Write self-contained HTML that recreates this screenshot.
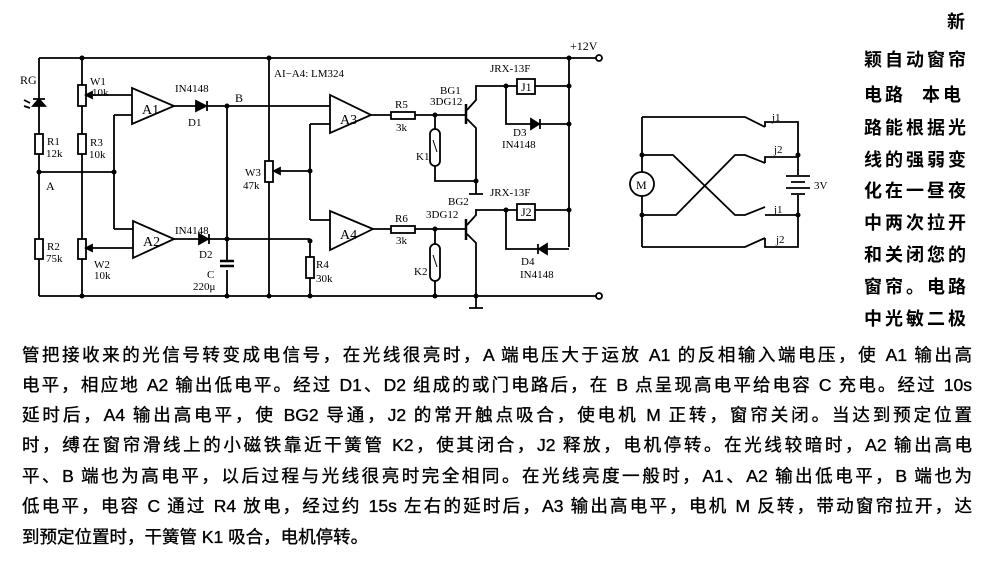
<!DOCTYPE html>
<html><head><meta charset="utf-8"><style>
html,body{margin:0;padding:0;background:#fff;}
#w{position:relative;width:994px;height:566px;overflow:hidden;background:#fff;}
svg{position:absolute;left:0;top:0;}
.t{font-family:"Liberation Serif","Noto Serif CJK SC",serif;fill:#000;}
.col{position:absolute;left:864px;width:110px;font-family:"Liberation Sans","Noto Sans CJK SC",sans-serif;font-size:18px;font-weight:bold;color:#000;letter-spacing:3px;white-space:nowrap;line-height:20px;}
.ln{position:absolute;left:22px;width:950px;font-family:"Liberation Sans","Noto Sans CJK SC",sans-serif;font-size:17.5px;color:#000;white-space:nowrap;text-align:justify;text-align-last:justify;line-height:22px;-webkit-text-stroke:0.35px #000;}
</style></head><body><div id="w">
<svg width="994" height="566" viewBox="0 0 994 566" stroke="#000" stroke-width="1.8" fill="none">
<path d="M39 58H598 M39 296H598"/>
<circle cx="599" cy="58" r="3" fill="#fff"/><circle cx="599" cy="296" r="3" fill="#fff"/>
<path d="M39 58V296 M82 58V296 M39 172H114 M114 115V229"/>
<rect x="35" y="134" width="8" height="20" fill="#fff"/>
<rect x="35" y="239" width="8" height="20" fill="#fff"/>
<rect x="78" y="134" width="8" height="20" fill="#fff"/>
<rect x="78" y="85" width="8" height="21" fill="#fff"/>
<rect x="78" y="239" width="8" height="20" fill="#fff"/>
<polygon points="33,106 45,106 39,99" fill="#000"/><path d="M33 99H45 M24 100l6 3 M24 106l6 2"/>
<polygon points="132,88 132,124 174,106" fill="#fff"/>
<polygon points="133,221 133,258 174,239" fill="#fff"/>
<path d="M86 95H132 M114 115H132 M114 229H133 M86 248H133"/>
<polygon points="86,95 92,92 92,98" fill="#000"/><polygon points="86,248 92,245 92,251" fill="#000"/>
<path d="M174 106H227 M174 239H310"/>
<polygon points="196,101 196,111 206,106" fill="#000"/><path d="M207 101V111"/>
<polygon points="199,234 199,244 208,239" fill="#000"/><path d="M209 234V244"/>
<path d="M227 106H332 M227 106V261 M227 270V296"/>
<path d="M220 261H234 M220 266H234" stroke-width="2.5"/>
<path d="M269 58V296"/><rect x="265" y="161" width="8" height="21" fill="#fff"/>
<path d="M274 171H310 M310 124V220" /><polygon points="274,171 280,168 280,174" fill="#000"/>
<path d="M310 124H332 M310 220H330 M310 241V296"/>
<rect x="306" y="257" width="8" height="21" fill="#fff"/>
<polygon points="330,95 330,133 371,115" fill="#fff"/>
<polygon points="330,211 330,250 373,229" fill="#fff"/>
<path d="M371 115H466 M373 229H466"/>
<rect x="391" y="112" width="24" height="7" fill="#fff"/>
<rect x="391" y="226" width="24" height="7" fill="#fff"/>
<path d="M435 115V129 M435 166V181H476 M435 229V244 M435 281V296"/>
<rect x="430" y="129" width="10" height="37" rx="5" fill="#fff"/>
<rect x="430" y="244" width="10" height="37" rx="5" fill="#fff"/>
<path d="M433 140l4 12 M433 255l4 12" stroke-width="1"/>
<path d="M466 104V124 M466 219V240" stroke-width="2.5"/>
<path d="M467 110L476 100V86H506 M467 119L476 128V181 M476 181V194 M469 194H483"/>
<path d="M467 225L476 215V210H506 M467 234L476 243V308 M469 308H483"/>
<path d="M506 86H569 M506 86V124H569 M569 58V247 M506 210H569 M506 210V249H569"/>
<rect x="517" y="79" width="18" height="15" fill="#fff"/>
<rect x="517" y="204" width="18" height="16" fill="#fff"/>
<polygon points="531,119 531,129 539,124" fill="#000"/><path d="M540 119V129"/>
<polygon points="547,244 547,254 539,249" fill="#000"/><path d="M538 244V254"/>
<g fill="#000" stroke="none">
<circle cx="82" cy="58" r="2.5"/><circle cx="269" cy="58" r="2.5"/><circle cx="569" cy="58" r="2.5"/>
<circle cx="39" cy="172" r="2.5"/><circle cx="114" cy="172" r="2.5"/><circle cx="227" cy="106" r="2.5"/>
<circle cx="227" cy="239" r="2.5"/><circle cx="310" cy="171" r="2.5"/><circle cx="310" cy="241" r="2.5"/>
<circle cx="435" cy="115" r="2.5"/><circle cx="435" cy="229" r="2.5"/><circle cx="476" cy="181" r="2.5"/>
<circle cx="506" cy="86" r="2.5"/><circle cx="569" cy="86" r="2.5"/><circle cx="569" cy="124" r="2.5"/>
<circle cx="506" cy="210" r="2.5"/><circle cx="569" cy="210" r="2.5"/>
<circle cx="82" cy="296" r="2.5"/><circle cx="227" cy="296" r="2.5"/><circle cx="269" cy="296" r="2.5"/>
<circle cx="310" cy="296" r="2.5"/><circle cx="435" cy="296" r="2.5"/><circle cx="476" cy="296" r="2.5"/>
</g>
<g class="t" stroke="none" font-size="11">
<text x="570" y="50" font-size="12">+12V</text>
<text x="20" y="84" font-size="12">RG</text>
<text x="90" y="85">W1</text><text x="92" y="96">10k</text>
<text x="47" y="145">R1</text><text x="46" y="157">12k</text>
<text x="90" y="146">R3</text><text x="89" y="158">10k</text>
<text x="46" y="190" font-size="12">A</text>
<text x="47" y="250">R2</text><text x="46" y="262">75k</text>
<text x="94" y="268">W2</text><text x="94" y="279">10k</text>
<text x="142" y="114" font-size="14">A1</text><text x="143" y="246" font-size="14">A2</text>
<text x="175" y="92">IN4148</text><text x="188" y="126">D1</text>
<text x="235" y="102" font-size="12">B</text>
<text x="175" y="234">IN4148</text><text x="199" y="258">D2</text>
<text x="207" y="278">C</text><text x="193" y="290">220μ</text>
<text x="274" y="77">AI−A4: LM324</text>
<text x="245" y="176">W3</text><text x="243" y="189">47k</text>
<text x="340" y="124" font-size="14">A3</text><text x="340" y="239" font-size="14">A4</text>
<text x="316" y="268">R4</text><text x="316" y="282">30k</text>
<text x="395" y="108">R5</text><text x="396" y="131">3k</text>
<text x="395" y="222">R6</text><text x="396" y="244">3k</text>
<text x="416" y="160">K1</text><text x="414" y="275">K2</text>
<text x="440" y="94">BG1</text><text x="430" y="105">3DG12</text>
<text x="448" y="205">BG2</text><text x="426" y="218">3DG12</text>
<text x="490" y="72">JRX-13F</text><text x="490" y="196">JRX-13F</text>
<text x="521" y="91" font-size="12">J1</text><text x="521" y="216" font-size="12">J2</text>
<text x="513" y="136">D3</text><text x="502" y="148">IN4148</text>
<text x="521" y="265">D4</text><text x="520" y="278">IN4148</text>
</g>
<path d="M642 117V172 M642 196V247 M642 117H745L765 127 M642 155H673L735 215H745L765 207 M642 215H676L735 155H745L765 163 M642 247H745L765 238"/>
<path d="M765 127V122H798V175 M765 163V157H798 M798 195V247H765V238 M798 215H765"/>
<circle cx="642" cy="184" r="12" fill="#fff"/>
<text x="636" y="189" class="t" stroke="none" font-size="12">M</text>
<path d="M786 176H810 M791 182H805 M786 188H810 M791 194H805"/>
<g fill="#000" stroke="none"><circle cx="642" cy="155" r="2.5"/><circle cx="642" cy="215" r="2.5"/><circle cx="798" cy="155" r="2.5"/><circle cx="798" cy="215" r="2.5"/></g>
<g class="t" stroke="none" font-size="11">
<text x="772" y="121">j1</text><text x="774" y="153">j2</text><text x="774" y="213">j1</text><text x="776" y="243">j2</text><text x="814" y="189">3V</text>
</g>
</svg>
<div class="col" style="top:12px;text-align:right;width:104px">新</div>
<div class="col" style="top:50px">颖自动窗帘</div>
<div class="col" style="top:85px">电路&nbsp;&nbsp;本电</div>
<div class="col" style="top:118px">路能根据光</div>
<div class="col" style="top:150px">线的强弱变</div>
<div class="col" style="top:181px">化在一昼夜</div>
<div class="col" style="top:213px">中两次拉开</div>
<div class="col" style="top:245px">和关闭您的</div>
<div class="col" style="top:277px">窗帘。电路</div>
<div class="col" style="top:309px">中光敏二极</div>
<div class="ln" style="top:344px">管把接收来的光信号转变成电信号，在光线很亮时，A 端电压大于运放 A1 的反相输入端电压，使 A1 输出高</div>
<div class="ln" style="top:374px">电平，相应地 A2 输出低电平。经过 D1、D2 组成的或门电路后，在 B 点呈现高电平给电容 C 充电。经过 10s</div>
<div class="ln" style="top:404px">延时后，A4 输出高电平，使 BG2 导通，J2 的常开触点吸合，使电机 M 正转，窗帘关闭。当达到预定位置</div>
<div class="ln" style="top:434px">时，缚在窗帘滑线上的小磁铁靠近干簧管 K2，使其闭合，J2 释放，电机停转。在光线较暗时，A2 输出高电</div>
<div class="ln" style="top:465px">平、B 端也为高电平，以后过程与光线很亮时完全相同。在光线亮度一般时，A1、A2 输出低电平，B 端也为</div>
<div class="ln" style="top:495px">低电平，电容 C 通过 R4 放电，经过约 15s 左右的延时后，A3 输出高电平，电机 M 反转，带动窗帘拉开，达</div>
<div class="ln" style="top:526px;text-align-last:left;width:auto">到预定位置时，干簧管 K1 吸合，电机停转。</div>
</div></body></html>
